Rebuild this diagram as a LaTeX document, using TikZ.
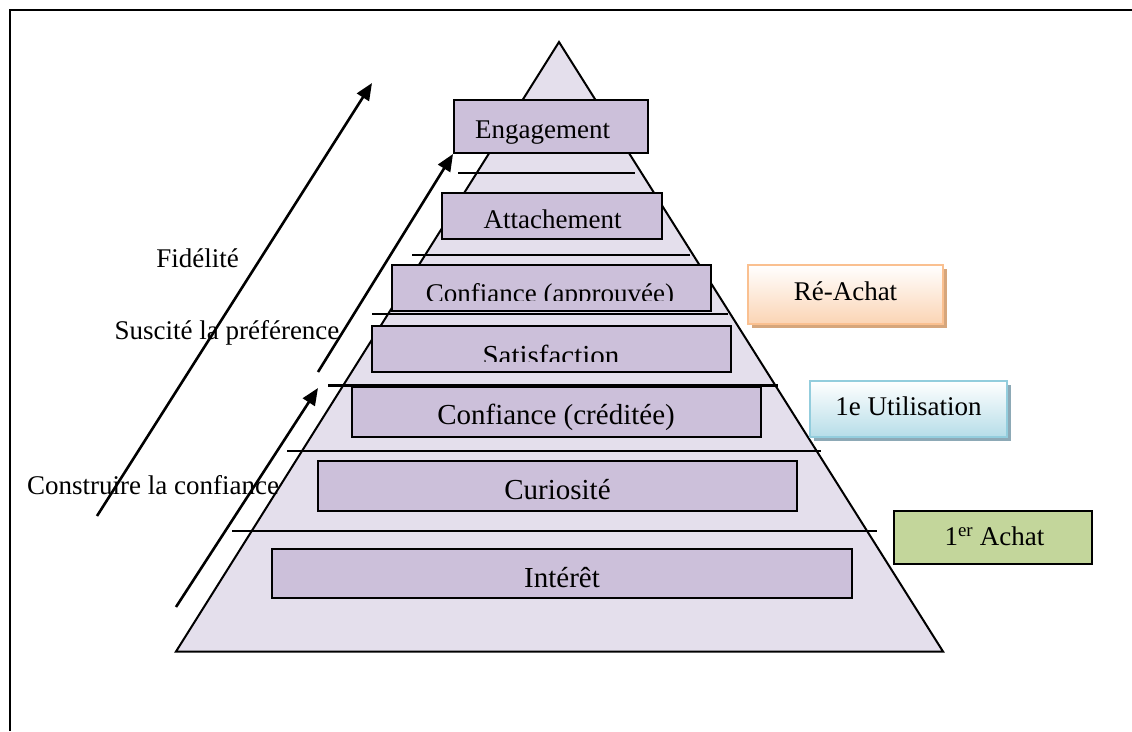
\documentclass[tikz,border=0pt]{standalone}
\usepackage{fontspec}
\setmainfont{Liberation Serif}
\usetikzlibrary{arrows.meta}
\definecolor{pyrfill}{HTML}{E4DFEC}
\definecolor{tierfill}{HTML}{CCC0DA}
\definecolor{orangeline}{HTML}{FAC090}
\definecolor{orangefill}{HTML}{FBD4B4}
\definecolor{orangeshadow}{HTML}{D6A67C}
\definecolor{blueline}{HTML}{93CDDD}
\definecolor{bluefill}{HTML}{B6DDE8}
\definecolor{blueshadow}{HTML}{8DA9B6}
\definecolor{greenfill}{HTML}{C3D69B}
\tikzset{
  tier/.style={draw=black, line width=2pt, fill=tierfill, inner sep=0pt},
  stagebox/.style={draw=black, line width=2pt, fill=greenfill, inner sep=0pt},
  lbl/.style={font=\fontsize{27}{32}\selectfont, inner sep=0pt, anchor=base},
  lblbig/.style={font=\fontsize{29}{34}\selectfont, inner sep=0pt, anchor=base},
  divider/.style={line width=2pt},
  climb/.style={line width=2.6pt, -{Triangle[length=17pt,width=14pt]}},
}
\begin{document}
\begin{tikzpicture}[x=1pt,y=-1pt]
\useasboundingbox (0,0) rectangle (1132,731);

% frame (top and left edges)
\draw[line width=2pt] (10,731) -- (10,10) -- (1132,10);

% pyramid
\coordinate (apex) at (559,42);
\coordinate (bl) at (176,651.5);
\coordinate (br) at (943,651.5);
\draw[line width=2pt, fill=pyrfill, line join=miter] (apex) -- (bl) -- (br) -- cycle;

% level dividers
\draw[divider] (458,172.5) -- (635,172.5);
\draw[divider] (412,255) -- (690,255);
\draw[divider] (372,313.5) -- (728,313.5);
\draw[line width=3pt] (328,385.5) -- (778,385.5);
\draw[divider] (287,450.5) -- (821,450.5);
\draw[divider] (232,530.5) -- (877,530.5);

% tiers
\node[tier, minimum width=194pt, minimum height=53pt] (eng) at (551,126.5) {};
\node[lbl] (engt) at (542.5,138) {Engagement};
\node[tier, minimum width=220pt, minimum height=46pt] (att) at (552,216) {};
\node[lbl] (attt) at (552.5,228) {Attachement};
\node[tier, minimum width=319pt, minimum height=46pt] (cap) at (551.5,288) {};
\begin{scope}
  \clip (392,265) rectangle (711,300);
  \node[lbl] (capt) at (550,302) {Confiance (approuvée)};
\end{scope}
\node[tier, minimum width=359pt, minimum height=46pt] (sat) at (551.5,349) {};
\begin{scope}
  \clip (372,326) rectangle (731,361.5);
  \node[lblbig] (satt) at (551,365) {Satisfaction};
\end{scope}
\node[tier, minimum width=409pt, minimum height=50pt] (cre) at (556.5,412) {};
\node[lblbig] (cret) at (556,424) {Confiance (créditée)};
\node[tier, minimum width=479pt, minimum height=50pt] (cur) at (557.5,486) {};
\node[lblbig] (curt) at (557.5,499) {Curiosité};
\node[tier, minimum width=580pt, minimum height=49pt] (int) at (562,573.5) {};
\node[lblbig] (intt) at (562,587.5) {Intérêt};

% purchase stages
\fill[orangeshadow] (752,269) rectangle (947,328);
\node[draw=orangeline, line width=2pt, top color=white, bottom color=orangefill,
      inner sep=0pt, minimum width=195pt, minimum height=59pt] (rea) at (845.5,294.5) {};
\node[lbl] (reat) at (845.5,300.5) {Ré-Achat};

\fill[blueshadow] (814,385) rectangle (1011,441);
\node[draw=blueline, line width=2pt, top color=white, bottom color=bluefill,
      inner sep=0pt, minimum width=197pt, minimum height=56pt] (uti) at (908.5,409) {};
\node[lbl] (utit) at (908.5,415) {1e Utilisation};

\node[stagebox, minimum width=198pt, minimum height=53pt] (ach) at (993,537.5) {};
\node[lbl] (acht) at (994.5,545.5) {1\textsuperscript{er} Achat};

% progression arrows
\coordinate (f0) at (97,516);
\coordinate (f1) at (372,83);
\coordinate (p0) at (318,372);
\coordinate (c0) at (176,607);
\coordinate (c1) at (318,388);
\draw[climb] (f0) -- (f1);
\draw[climb] (p0) -- (eng.south west);
\draw[climb] (c0) -- (c1);

% arrow captions
\node[lbl] (fid) at (197.5,267) {Fidélité};
\node[lbl] (pref) at (227,339) {Suscité la préférence};
\node[lbl] (conf) at (153,494) {Construire la confiance};
\end{tikzpicture}
\end{document}
